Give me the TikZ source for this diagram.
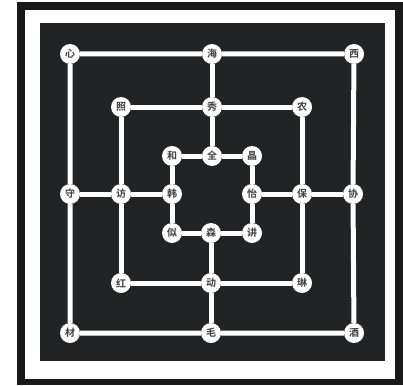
\documentclass[tikz,border=0pt]{standalone}
\usepackage{fontspec}
\newfontfamily\cjk[BoldFont={Noto Sans CJK SC Bold}]{Noto Sans CJK SC}
\definecolor{board}{HTML}{222325}
\tikzset{
  spot/.style={circle, fill=white, minimum size=20pt, inner sep=0pt,
    font=\cjk\bfseries\fontsize{10}{10}\selectfont, text=black!75},
  track/.style={draw=white, line width=5pt}
}
\begin{document}
\begin{tikzpicture}[x=1pt,y=-1pt]
\useasboundingbox (0,0) rectangle (403,385);
\fill[white] (0,0) rectangle (403,385);
\fill[black!90] (17,2) rectangle (403,385);
\fill[white] (25,10) rectangle (395,379);
\fill[board] (40,23) rectangle (385,361);

% outer square
\node[spot] (otl) at (70,54) {心};
\node[spot] (otm) at (212,54) {海};
\node[spot] (otr) at (354,54) {西};
\node[spot] (oml) at (70,194) {守};
\node[spot] (omr) at (353,194) {协};
\node[spot] (obl) at (70,333) {材};
\node[spot] (obm) at (211,333) {毛};
\node[spot] (obr) at (354,333) {酒};
% middle square
\node[spot] (mtl) at (121,107) {照};
\node[spot] (mtm) at (212,107) {秀};
\node[spot] (mtr) at (302,107) {农};
\node[spot] (mml) at (121,194) {访};
\node[spot] (mmr) at (302,194) {保};
\node[spot] (mbl) at (121,283) {红};
\node[spot] (mbm) at (211,283) {动};
\node[spot] (mbr) at (302,283) {琳};
% inner square
\node[spot] (itl) at (172,156) {和};
\node[spot] (itm) at (212,156) {全};
\node[spot] (itr) at (252,156) {晶};
\node[spot] (iml) at (172,194) {韩};
\node[spot] (imr) at (252,194) {怡};
\node[spot] (ibl) at (172,233) {似};
\node[spot] (ibm) at (211,233) {森};
\node[spot] (ibr) at (252,233) {讲};

% squares
\draw[track] (otl) -- (otm) -- (otr) -- (omr) -- (obr) -- (obm) -- (obl) -- (oml) -- (otl);
\draw[track] (mtl) -- (mtm) -- (mtr) -- (mmr) -- (mbr) -- (mbm) -- (mbl) -- (mml) -- (mtl);
\draw[track] (itl) -- (itm) -- (itr) -- (imr) -- (ibr) -- (ibm) -- (ibl) -- (iml) -- (itl);
% cross lines
\draw[track] (otm) -- (mtm) -- (itm);
\draw[track] (obm) -- (mbm) -- (ibm);
\draw[track] (oml) -- (mml) -- (iml);
\draw[track] (omr) -- (mmr) -- (imr);
\end{tikzpicture}
\end{document}
